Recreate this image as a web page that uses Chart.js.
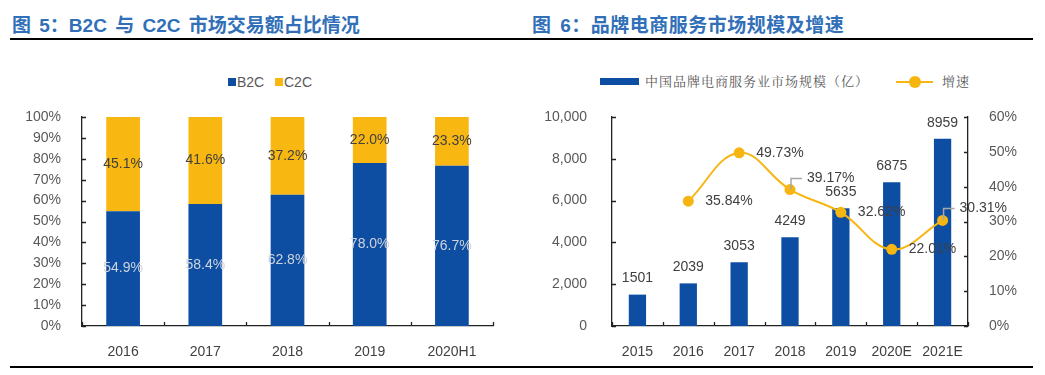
<!DOCTYPE html>
<html>
<head>
<meta charset="utf-8">
<script src="https://cdn.jsdelivr.net/npm/chart.js@4/dist/chart.umd.min.js"></script>
<style>
  body { margin: 0; background: #fff; width: 1045px; height: 375px; position: relative; overflow: hidden;
         font-family: 'Liberation Sans', Arial, 'Noto Sans CJK SC', sans-serif; }
  .title { position: absolute; top: 10px; font-size: 19px; font-weight: bold; color: #3170b8;
           font-family: 'Liberation Sans', Arial, 'Noto Sans CJK SC', sans-serif; word-spacing: 3px; white-space: nowrap; }
  .rule { position: absolute; left: 10px; width: 1023px; height: 2px; background: #000; }
  canvas { position: absolute; top: 50px; }
  .lg { position: absolute; font-size: 14px; color: #595959; line-height: 16px; white-space: nowrap; }
  .sw { position: absolute; }
</style>
</head>
<body>
<div class="title" style="left:12px">图 5：B2C 与 C2C 市场交易额占比情况</div>
<div class="title" style="left:532px;letter-spacing:0.5px">图 6：品牌电商服务市场规模及增速</div>
<div class="rule" style="top:38px"></div>
<div class="rule" style="top:366px"></div>

<!-- legends -->
<div class="sw" style="left:228px;top:78px;width:8px;height:8px;background:#0d4ea2"></div>
<div class="lg" style="left:237px;top:74px">B2C</div>
<div class="sw" style="left:275px;top:78px;width:8px;height:8px;background:#f9b712"></div>
<div class="lg" style="left:284px;top:74px">C2C</div>

<div class="sw" style="left:600px;top:78px;width:39px;height:7px;background:#0d4ea2"></div>
<div class="lg" style="left:645px;top:73px;font-size:13px;letter-spacing:1px;font-family:'Noto Serif CJK SC','Noto Sans CJK SC',sans-serif">中国品牌电商服务业市场规模（亿）</div>
<div class="sw" style="left:896px;top:81px;width:37px;height:2px;background:#f6b511"></div>
<div class="sw" style="left:909px;top:76px;width:12px;height:12px;border-radius:6px;background:#f6b511"></div>
<div class="lg" style="left:942px;top:73px;font-size:13px;letter-spacing:1px;font-family:'Noto Serif CJK SC','Noto Sans CJK SC',sans-serif">增速</div>

<canvas id="c1" width="520" height="310" style="left:0"></canvas>
<canvas id="c2" width="525" height="310" style="left:520px"></canvas>

<script>
// 图5 data
const years1 = ['2016', '2017', '2018', '2019', '2020H1'];
const b2c    = [54.9, 58.4, 62.8, 78.0, 76.7];
const c2c    = [45.1, 41.6, 37.2, 22.0, 23.3];

// 图6 data
const years2 = ['2015', '2016', '2017', '2018', '2019', '2020E', '2021E'];
const market = [1501, 2039, 3053, 4249, 5635, 6875, 8959];
const growth = [null, 35.84, 49.73, 39.17, 32.62, 22.01, 30.31];

const BLUE   = '#0d4ea2';
const YELLOW = '#f9b712';
const LINE   = '#f6b511';
const FONT   = "'Liberation Sans', Arial, 'Noto Sans CJK SC', sans-serif";

Chart.defaults.font.family = FONT;
Chart.defaults.font.size = 14;

// ticks drawn inside the plot, like the source charts
const innerTicks = {
  id: 'innerTicks',
  afterDraw(chart) {
    const ctx = chart.ctx;
    const area = chart.chartArea;
    ctx.save();
    ctx.strokeStyle = '#222';
    ctx.lineWidth = 1.3;
    ctx.beginPath();
    Object.values(chart.scales).forEach(s => {
      if (s.axis === 'y') {
        const x0 = s.position === 'left' ? s.right : s.left;
        const dir = s.position === 'left' ? 1 : -1;
        s.ticks.forEach((t, i) => {
          const y = Math.round(s.getPixelForTick(i)) + 0.5;
          ctx.moveTo(x0, y);
          ctx.lineTo(x0 + dir * 4, y);
        });
      } else {
        const n = chart.data.labels.length;
        const w = (area.right - area.left) / n;
        for (let k = 0; k <= n; k++) {
          const x = Math.round(area.left + k * w) + 0.5;
          ctx.moveTo(x, area.bottom);
          ctx.lineTo(x, area.bottom - 4);
        }
      }
    });
    ctx.stroke();
    ctx.restore();
  }
};

// 图5 labels centered in each segment
const shareLabels = {
  id: 'shareLabels',
  afterDatasetsDraw(chart) {
    const ctx = chart.ctx;
    ctx.save();
    ctx.font = '14px ' + FONT;
    ctx.textAlign = 'center';
    ctx.textBaseline = 'middle';
    chart.data.datasets.forEach((ds, di) => {
      ctx.fillStyle = di === 0 ? '#cfd3dc' : '#404040';
      chart.getDatasetMeta(di).data.forEach((el, i) => {
        ctx.fillText(ds.data[i].toFixed(1) + '%', el.x, (el.y + el.base) / 2);
      });
    });
    ctx.restore();
  }
};

new Chart(document.getElementById('c1'), {
  type: 'bar',
  data: {
    labels: years1,
    datasets: [
      { label: 'B2C', data: b2c, backgroundColor: BLUE, barPercentage: 0.41, categoryPercentage: 1 },
      { label: 'C2C', data: c2c, backgroundColor: YELLOW, barPercentage: 0.41, categoryPercentage: 1 }
    ]
  },
  options: {
    responsive: false,
    animation: false,
    layout: { padding: { left: 8, right: 27, top: 67, bottom: 0 } },
    plugins: { legend: { display: false }, tooltip: { enabled: false } },
    scales: {
      x: {
        stacked: true,
        grid: { display: false },
        border: { color: '#222', width: 1.3 },
        ticks: { color: '#404040', padding: 10 },
        afterFit(s) { s.height = 34; }
      },
      y: {
        stacked: true,
        min: 0, max: 100,
        grid: { display: false },
        border: { color: '#222', width: 1.3 },
        ticks: { stepSize: 10, color: '#595959', padding: 13, callback: v => v + '%' },
        afterFit(s) { s.width = 74; }
      }
    }
  },
  plugins: [innerTicks, shareLabels]
});

// 图6 labels: values above bars, growth to the right of points
const marketLabels = {
  id: 'marketLabels',
  afterDatasetsDraw(chart) {
    const ctx = chart.ctx;
    ctx.save();
    ctx.font = '14px ' + FONT;
    ctx.fillStyle = '#404040';
    ctx.textBaseline = 'middle';

    ctx.textAlign = 'center';
    chart.getDatasetMeta(1).data.forEach((el, i) => {
      ctx.fillText(String(market[i]), el.x, el.y - 16);
    });

    const lift = { 3: 11, 6: 12 };  // labels moved up with a leader line
    ctx.textAlign = 'left';
    chart.getDatasetMeta(0).data.forEach((el, i) => {
      if (growth[i] == null) return;
      const dy = lift[i] || 0;
      if (dy) {
        ctx.strokeStyle = '#a6a6a6';
        ctx.lineWidth = 1.5;
        ctx.beginPath();
        ctx.moveTo(el.x + 1, el.y);
        ctx.lineTo(el.x + 1, el.y - dy);
        ctx.lineTo(el.x + 12, el.y - dy);
        ctx.stroke();
      }
      ctx.fillText(growth[i].toFixed(2) + '%', el.x + 17, el.y - dy);
    });
    ctx.restore();
  }
};

new Chart(document.getElementById('c2'), {
  type: 'bar',
  data: {
    labels: years2,
    datasets: [
      {
        type: 'line', label: '增速', data: growth, yAxisID: 'y1', order: 0,
        borderColor: LINE, backgroundColor: LINE, borderWidth: 2,
        pointRadius: 5.5, pointBorderWidth: 0, tension: 0.4
      },
      {
        type: 'bar', label: '中国品牌电商服务业市场规模（亿）', data: market, yAxisID: 'y', order: 1,
        backgroundColor: BLUE, barPercentage: 0.34, categoryPercentage: 1
      }
    ]
  },
  options: {
    responsive: false,
    animation: false,
    layout: { padding: { left: 8, right: 0, top: 67, bottom: 0 } },
    plugins: { legend: { display: false }, tooltip: { enabled: false } },
    scales: {
      x: {
        grid: { display: false },
        border: { color: '#222', width: 1.3 },
        ticks: { color: '#404040', padding: 10 },
        afterFit(s) { s.height = 34; }
      },
      y: {
        position: 'left',
        min: 0, max: 10000,
        grid: { display: false },
        border: { color: '#222', width: 1.3 },
        ticks: { stepSize: 2000, color: '#595959', padding: 17 },
        afterFit(s) { s.width = 84; }
      },
      y1: {
        position: 'right',
        min: 0, max: 60,
        grid: { display: false },
        border: { color: '#222', width: 1.3 },
        ticks: { stepSize: 10, color: '#595959', padding: 13, callback: v => v + '%' },
        afterFit(s) { s.width = 77; }
      }
    }
  },
  plugins: [innerTicks, marketLabels]
});
</script>
</body>
</html>
